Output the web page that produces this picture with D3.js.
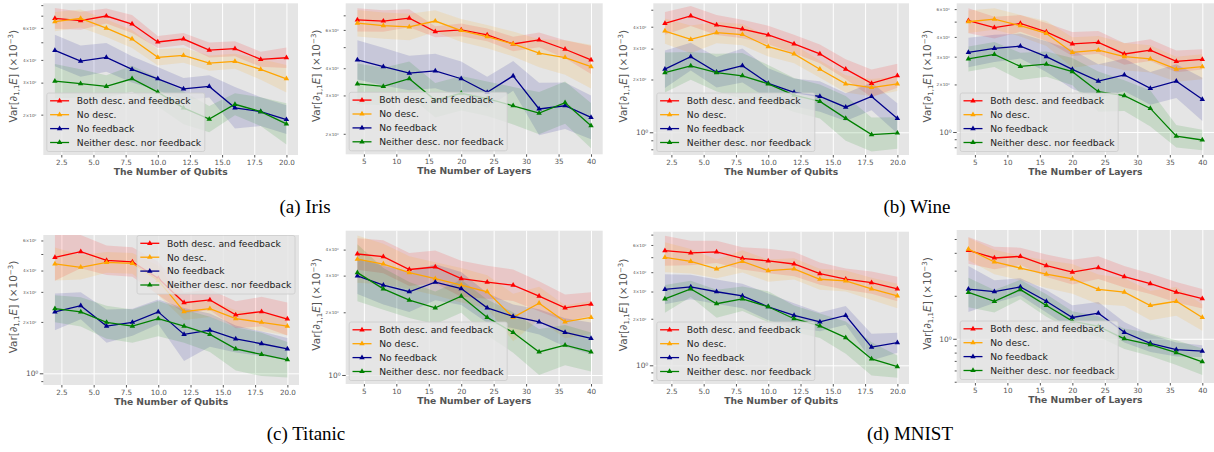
<!DOCTYPE html>
<html>
<head>
<meta charset="utf-8">
<script src="https://cdn.jsdelivr.net/npm/d3@7"></script>
<style>
  body { margin: 0; background: #fff; }
  svg text { font-family: "DejaVu Sans", sans-serif; }
  svg text.caption { font-family: "Liberation Serif", "Times New Roman", serif; }
</style>
</head>
<body>
<div id="chart-area"></div>
<script>
// x values
var qubits = [2, 4, 6, 8, 10, 12, 14, 16, 18, 20];
var layers = [4, 8, 12, 16, 20, 24, 28, 32, 36, 40];
var xTicksQubits = [2.5, 5, 7.5, 10, 12.5, 15, 17.5, 20];
var xTicksLayers = [5, 10, 15, 20, 25, 30, 35, 40];

var seriesNames = ["Both desc. and feedback", "No desc.", "No feedback", "Neither desc. nor feedback"];
var seriesColors = ["#ff0000", "#ffa500", "#00008b", "#008000"];
var captions = ["(a) Iris", "(b) Wine", "(c) Titanic", "(d) MNIST"];

// Iris - qubits (mean, and spread factor of the shaded band)
var irisQBoth    = [6.76, 6.57, 6.97, 6.30, 5.02, 5.21, 4.53, 4.61, 4.03, 4.11];
var irisQNoDesc  = [6.49, 6.76, 5.98, 5.21, 4.13, 4.24, 3.84, 3.93, 3.55, 3.15];
var irisQNoFb    = [4.51, 3.94, 4.13, 3.55, 3.15, 2.77, 2.86, 2.18, 2.08, 1.88];
var irisQNeither = [3.06, 2.96, 2.86, 3.15, 2.66, 2.18, 1.89, 2.28, 2.08, 1.78];
var irisQBothSp    = [1.14, 1.12, 1.10, 1.12, 1.08, 1.08, 1.10, 1.10, 1.10, 1.14];
var irisQNoDescSp  = [1.13, 1.12, 1.12, 1.12, 1.11, 1.10, 1.10, 1.10, 1.14, 1.19];
var irisQNoFbSp    = [1.22, 1.22, 1.20, 1.18, 1.16, 1.15, 1.15, 1.30, 1.20, 1.20];
var irisQNeitherSp = [1.24, 1.20, 1.15, 1.18, 1.20, 1.23, 1.18, 1.15, 1.20, 1.30];

// Iris - layers
var irisLBoth    = [6.67, 6.59, 6.79, 5.89, 6.00, 5.69, 5.17, 5.40, 4.89, 4.37];
var irisLNoDesc  = [6.44, 6.28, 6.19, 6.59, 5.96, 5.59, 5.17, 4.69, 4.48, 4.07];
var irisLNoFb    = [4.37, 4.07, 3.80, 3.89, 3.58, 3.10, 3.69, 2.60, 2.69, 2.38];
var irisLNeither = [3.39, 3.30, 3.58, 2.85, 3.07, 2.90, 2.69, 2.49, 2.78, 2.18];
var irisLBothSp    = [1.13, 1.12, 1.10, 1.06, 1.07, 1.07, 1.08, 1.08, 1.10, 1.16];
var irisLNoDescSp  = [1.15, 1.15, 1.15, 1.12, 1.13, 1.13, 1.14, 1.16, 1.20, 1.26];
var irisLNoFbSp    = [1.23, 1.22, 1.20, 1.20, 1.20, 1.18, 1.17, 1.32, 1.28, 1.26];
var irisLNeitherSp = [1.24, 1.22, 1.20, 1.20, 1.20, 1.20, 1.22, 1.25, 1.25, 1.27];

// Wine - qubits
var wineQBoth    = [4.18, 4.61, 4.09, 3.88, 3.59, 3.19, 2.80, 2.29, 1.90, 2.10];
var wineQNoDesc  = [3.78, 3.39, 3.70, 3.61, 3.08, 2.80, 2.29, 1.89, 1.80, 1.89];
var wineQNoFb    = [2.29, 2.70, 2.20, 2.40, 1.90, 1.69, 1.60, 1.39, 1.60, 1.20];
var wineQNeither = [2.19, 2.39, 2.19, 2.10, 1.89, 1.63, 1.50, 1.20, 0.97, 0.99];
var wineQBothSp    = [1.16, 1.14, 1.14, 1.13, 1.13, 1.13, 1.13, 1.14, 1.20, 1.17];
var wineQNoDescSp  = [1.18, 1.20, 1.15, 1.15, 1.14, 1.13, 1.12, 1.12, 1.12, 1.10];
var wineQNoFbSp    = [1.28, 1.20, 1.22, 1.25, 1.22, 1.20, 1.22, 1.20, 1.20, 1.22];
var wineQNeitherSp = [1.30, 1.20, 1.28, 1.35, 1.28, 1.25, 1.25, 1.34, 1.25, 1.23];

// Wine - layers
var wineLBoth    = [5.07, 4.58, 4.87, 4.30, 3.61, 3.69, 3.12, 3.30, 2.80, 2.88];
var wineLNoDesc  = [4.99, 5.19, 4.71, 4.21, 3.19, 3.30, 3.00, 2.90, 2.50, 2.59];
var wineLNoFb    = [3.19, 3.38, 3.50, 3.00, 2.49, 2.10, 2.30, 1.89, 2.10, 1.61];
var wineLNeither = [2.90, 3.10, 2.60, 2.69, 2.41, 1.80, 1.70, 1.41, 0.94, 0.89];
var wineLBothSp    = [1.20, 1.17, 1.13, 1.14, 1.19, 1.18, 1.17, 1.17, 1.17, 1.16];
var wineLNoDescSp  = [1.18, 1.17, 1.17, 1.20, 1.25, 1.23, 1.22, 1.22, 1.20, 1.20];
var wineLNoFbSp    = [1.24, 1.22, 1.20, 1.25, 1.33, 1.28, 1.27, 1.27, 1.28, 1.37];
var wineLNeitherSp = [1.20, 1.20, 1.22, 1.20, 1.22, 1.34, 1.25, 1.30, 1.18, 1.16];

// Titanic - qubits
var titanicQBoth    = [4.78, 5.16, 4.59, 4.49, 3.60, 2.59, 2.69, 2.20, 2.30, 2.08];
var titanicQNoDesc  = [4.37, 4.18, 4.47, 4.41, 3.50, 2.30, 2.39, 2.09, 1.99, 1.89];
var titanicQNoFb    = [2.29, 2.49, 1.89, 1.99, 2.29, 1.69, 1.79, 1.59, 1.49, 1.39];
var titanicQNeither = [2.39, 2.29, 1.99, 1.89, 2.09, 1.89, 1.69, 1.39, 1.29, 1.20];
var titanicQBothSp    = [1.37, 1.25, 1.22, 1.22, 1.25, 1.15, 1.15, 1.20, 1.22, 1.25];
var titanicQNoDescSp  = [1.25, 1.18, 1.15, 1.15, 1.22, 1.12, 1.12, 1.12, 1.13, 1.13];
var titanicQNoFbSp    = [1.28, 1.20, 1.25, 1.20, 1.18, 1.43, 1.25, 1.20, 1.18, 1.16];
var titanicQNeitherSp = [1.20, 1.22, 1.25, 1.25, 1.27, 1.25, 1.27, 1.34, 1.34, 1.27];

// Titanic - layers
var titanicLBoth    = [3.81, 3.70, 3.21, 3.30, 2.90, 2.79, 2.70, 2.39, 2.10, 2.19];
var titanicLNoDesc  = [3.60, 3.41, 3.10, 2.90, 2.70, 2.51, 1.89, 2.21, 1.80, 1.89];
var titanicLNoFb    = [2.99, 2.70, 2.51, 2.79, 2.60, 2.10, 1.91, 1.80, 1.60, 1.50];
var titanicLNeither = [3.10, 2.59, 2.29, 2.10, 2.39, 1.89, 1.60, 1.29, 1.39, 1.29];
var titanicLBothSp    = [1.19, 1.20, 1.20, 1.20, 1.22, 1.20, 1.19, 1.18, 1.16, 1.14];
var titanicLNoDescSp  = [1.30, 1.25, 1.20, 1.20, 1.21, 1.20, 1.30, 1.20, 1.20, 1.20];
var titanicLNoFbSp    = [1.22, 1.24, 1.25, 1.22, 1.20, 1.18, 1.14, 1.15, 1.17, 1.19];
var titanicLNeitherSp = [1.37, 1.26, 1.22, 1.20, 1.20, 1.22, 1.25, 1.29, 1.25, 1.24];

// MNIST - qubits
var mnistQBoth    = [5.51, 5.33, 5.41, 4.92, 4.73, 4.52, 3.91, 3.61, 3.42, 3.12];
var mnistQNoDesc  = [4.99, 4.70, 4.20, 4.70, 4.09, 4.20, 3.60, 3.51, 3.12, 2.81];
var mnistQNoFb    = [3.10, 3.21, 2.99, 2.81, 2.39, 2.10, 1.91, 2.10, 1.31, 1.40];
var mnistQNeither = [2.69, 3.12, 2.50, 2.69, 2.39, 2.00, 1.80, 1.51, 1.10, 0.98];
var mnistQBothSp    = [1.25, 1.20, 1.18, 1.18, 1.20, 1.20, 1.18, 1.17, 1.18, 1.20];
var mnistQNoDescSp  = [1.25, 1.20, 1.15, 1.18, 1.18, 1.17, 1.17, 1.17, 1.18, 1.20];
var mnistQNoFbSp    = [1.25, 1.20, 1.20, 1.20, 1.22, 1.20, 1.15, 1.15, 1.22, 1.16];
var mnistQNeitherSp = [1.23, 1.13, 1.23, 1.20, 1.26, 1.22, 1.20, 1.27, 1.28, 1.18];

// MNIST - layers
var mnistLBoth    = [4.16, 3.68, 3.78, 3.25, 2.93, 3.15, 2.72, 2.43, 2.12, 1.91];
var mnistLNoDesc  = [4.25, 3.45, 3.13, 2.84, 2.63, 2.22, 2.12, 1.71, 1.83, 1.41];
var mnistLNoFb    = [2.23, 2.14, 2.31, 1.83, 1.41, 1.51, 1.11, 0.93, 0.84, 0.82];
var mnistLNeither = [2.11, 1.83, 2.21, 1.71, 1.33, 1.22, 1.00, 0.91, 0.80, 0.69];
var mnistLBothSp    = [1.24, 1.20, 1.15, 1.20, 1.22, 1.20, 1.19, 1.18, 1.18, 1.17];
var mnistLNoDescSp  = [1.20, 1.22, 1.22, 1.25, 1.27, 1.27, 1.25, 1.27, 1.26, 1.24];
var mnistLNoFbSp    = [1.45, 1.20, 1.15, 1.20, 1.22, 1.20, 1.18, 1.15, 1.12, 1.10];
var mnistLNeitherSp = [1.27, 1.20, 1.17, 1.20, 1.17, 1.18, 1.18, 1.20, 1.22, 1.24];

// layout of the 8 axes (pixel box + visible y range)
var panels = [
  { xs: qubits, ticks: xTicksQubits, fmt: ".1f", label: "The Number of Qubits", xDom: [1.1, 20.9],
    left: 43.3, top: 3.3, right: 298, bottom: 155, yDom: [1.20, 8.19], legend: "ll",
    vals: [irisQBoth, irisQNoDesc, irisQNoFb, irisQNeither],
    sps: [irisQBothSp, irisQNoDescSp, irisQNoFbSp, irisQNeitherSp] },
  { xs: layers, ticks: xTicksLayers, fmt: "d", label: "The Number of Layers", xDom: [2.2, 41.8],
    left: 345.7, top: 3.3, right: 602.7, bottom: 154.3, yDom: [1.61, 7.95], legend: "ll",
    vals: [irisLBoth, irisLNoDesc, irisLNoFb, irisLNeither],
    sps: [irisLBothSp, irisLNoDescSp, irisLNoFbSp, irisLNeitherSp] },
  { xs: qubits, ticks: xTicksQubits, fmt: ".1f", label: "The Number of Qubits", xDom: [1.1, 20.9],
    left: 653.3, top: 3.3, right: 909, bottom: 155, yDom: [0.742, 5.44], legend: "ll",
    vals: [wineQBoth, wineQNoDesc, wineQNoFb, wineQNeither],
    sps: [wineQBothSp, wineQNoDescSp, wineQNoFbSp, wineQNeitherSp] },
  { xs: layers, ticks: xTicksLayers, fmt: "d", label: "The Number of Layers", xDom: [2.2, 41.8],
    left: 956.7, top: 3.3, right: 1214, bottom: 155, yDom: [0.715, 6.53], legend: "ll",
    vals: [wineLBoth, wineLNoDesc, wineLNoFb, wineLNeither],
    sps: [wineLBothSp, wineLNoDescSp, wineLNoFbSp, wineLNeitherSp] },
  { xs: qubits, ticks: xTicksQubits, fmt: ".1f", label: "The Number of Qubits", xDom: [1.1, 20.9],
    left: 43.3, top: 235, right: 299, bottom: 385, yDom: [0.854, 6.46], legend: "ur",
    vals: [titanicQBoth, titanicQNoDesc, titanicQNoFb, titanicQNeither],
    sps: [titanicQBothSp, titanicQNoDescSp, titanicQNoFbSp, titanicQNeitherSp] },
  { xs: layers, ticks: xTicksLayers, fmt: "d", label: "The Number of Layers", xDom: [2.2, 41.8],
    left: 345.7, top: 230.7, right: 602.7, bottom: 384, yDom: [0.905, 4.93], legend: "ll",
    vals: [titanicLBoth, titanicLNoDesc, titanicLNoFb, titanicLNeither],
    sps: [titanicLBothSp, titanicLNoDescSp, titanicLNoFbSp, titanicLNeitherSp] },
  { xs: qubits, ticks: xTicksQubits, fmt: ".1f", label: "The Number of Qubits", xDom: [1.1, 20.9],
    left: 653.3, top: 231.7, right: 909, bottom: 384, yDom: [0.757, 7.31], legend: "ll",
    vals: [mnistQBoth, mnistQNoDesc, mnistQNoFb, mnistQNeither],
    sps: [mnistQBothSp, mnistQNoDescSp, mnistQNoFbSp, mnistQNeitherSp] },
  { xs: layers, ticks: xTicksLayers, fmt: "d", label: "The Number of Layers", xDom: [2.2, 41.8],
    left: 956.7, top: 230, right: 1214, bottom: 383, yDom: [0.49, 5.78], legend: "ll",
    vals: [mnistLBoth, mnistLNoDesc, mnistLNoFb, mnistLNeither],
    sps: [mnistLBothSp, mnistLNoDescSp, mnistLNoFbSp, mnistLNeitherSp] }
];

var captionPos = [[305, 213], [917, 213], [306, 440], [910, 440]];

var svg = d3.select("#chart-area")
  .append("svg")
    .attr("width", 1214)
    .attr("height", 452);

var supDigits = "\u2070\u00b9\u00b2\u00b3\u2074\u2075\u2076\u2077\u2078\u2079";
function sup(k) {
  var s = String(Math.abs(k)).split("").map(function(c){ return supDigits[+c]; }).join("");
  return (k < 0 ? "\u207b" : "") + s;
}

// log ticks 1..9 x 10^k inside the domain
function logTicks(dom) {
  var t = [];
  for (var k = Math.floor(Math.log10(dom[0])); k <= Math.ceil(Math.log10(dom[1])); k++) {
    for (var m = 1; m < 10; m++) {
      var v = m * Math.pow(10, k);
      if (v >= dom[0] && v <= dom[1]) t.push(v);
    }
  }
  return t;
}
function isMajor(v) {
  var l = Math.log10(v);
  return Math.abs(l - Math.round(l)) < 1e-9;
}

panels.forEach(function(p, pi) {
  var w = p.right - p.left, h = p.bottom - p.top;
  var g = svg.append("g")
    .attr("transform", "translate(" + p.left + "," + p.top + ")");

  var x = d3.scaleLinear().domain(p.xDom).range([0, w]);
  var y = d3.scaleLog().domain(p.yDom).range([h, 0]);

  g.append("clipPath").attr("id", "clip" + pi)
    .append("rect").attr("width", w).attr("height", h);

  g.append("rect")
    .attr("width", w)
    .attr("height", h)
    .attr("fill", "#e5e5e5");

  var yt = logTicks(p.yDom);
  var majors = yt.filter(isMajor);
  var span = Math.log10(p.yDom[1] / p.yDom[0]);

  // white grid
  var gx = g.append("g")
    .attr("transform", "translate(0," + h + ")")
    .call(d3.axisBottom(x).tickValues(p.ticks).tickSize(-h).tickFormat(""));
  var gy = g.append("g")
    .call(d3.axisLeft(y).tickValues(majors).tickSize(-w).tickFormat(""));
  [gx, gy].forEach(function(gg) {
    gg.select(".domain").remove();
    gg.selectAll("line").attr("stroke", "#ffffff").attr("stroke-width", 1);
  });

  // bands and lines
  var plot = g.append("g").attr("clip-path", "url(#clip" + pi + ")");
  p.vals.forEach(function(vals, si) {
    var pts = vals.map(function(v, j){ return { x: p.xs[j], v: v, s: p.sps[si][j] }; });
    var area = d3.area()
      .x(function(d){ return x(d.x); })
      .y0(function(d){ return y(d.v / d.s); })
      .y1(function(d){ return y(d.v * d.s); });
    plot.append("path")
      .attr("d", area(pts))
      .attr("fill", seriesColors[si])
      .attr("fill-opacity", 0.13);
  });
  p.vals.forEach(function(vals, si) {
    var pts = vals.map(function(v, j){ return { x: p.xs[j], v: v }; });
    var line = d3.line()
      .x(function(d){ return x(d.x); })
      .y(function(d){ return y(d.v); });
    plot.append("path")
      .attr("d", line(pts))
      .attr("fill", "none")
      .attr("stroke", seriesColors[si])
      .attr("stroke-width", 1.3);
    plot.selectAll(".m" + si)
      .data(pts)
      .enter()
      .append("path")
        .attr("transform", function(d){ return "translate(" + x(d.x) + "," + y(d.v) + ")"; })
        .attr("d", d3.symbol().type(d3.symbolTriangle).size(13))
        .attr("fill", seriesColors[si]);
  });

  // axes
  var xAxis = g.append("g")
    .attr("transform", "translate(0," + h + ")")
    .call(d3.axisBottom(x).tickValues(p.ticks).tickSize(2.5).tickPadding(2)
      .tickFormat(d3.format(p.fmt)));
  xAxis.select(".domain").remove();
  xAxis.selectAll("line").attr("stroke", "#555555");
  xAxis.selectAll("text")
    .attr("fill", "#555555")
    .attr("font-size", "7.2px")
    .attr("font-family", "DejaVu Sans");

  var yAxis = g.append("g")
    .call(d3.axisLeft(y).tickValues(yt).tickSize(3).tickPadding(2)
      .tickFormat(function(v){
        var k = Math.floor(Math.log10(v) + 1e-9);
        var m = Math.round(v / Math.pow(10, k));
        if (m === 1) return "10" + sup(k);
        if (span < 1 && [2, 3, 4, 6].indexOf(m) >= 0) return m + "\u00d710" + sup(k);
        return "";
      }));
  yAxis.select(".domain").remove();
  yAxis.selectAll(".tick line")
    .attr("stroke", "#555555")
    .attr("x2", function(d){ return isMajor(d) ? -3.5 : -2; });
  yAxis.selectAll(".tick text")
    .attr("fill", "#555555")
    .attr("font-family", "DejaVu Sans")
    .attr("x", function(d){ return isMajor(d) ? -5 : -7; })
    .attr("font-size", function(d){ return isMajor(d) ? "7.4px" : "4.2px"; });

  // axis labels
  g.append("text")
    .attr("x", w / 2)
    .attr("y", h + 20)
    .attr("text-anchor", "middle")
    .attr("font-size", "9.2px")
    .attr("font-weight", "bold")
    .attr("fill", "#555555")
    .text(p.label);

  var yl = g.append("text")
    .attr("transform", "translate(-26," + (h / 2 - 3) + ") rotate(-90)")
    .attr("text-anchor", "middle")
    .attr("font-size", "10.5px")
    .attr("fill", "#555555");
  yl.append("tspan").text("Var[\u2202");
  yl.append("tspan").attr("dy", 2).attr("font-size", "7px").text("1,1");
  yl.append("tspan").attr("dy", -2).attr("font-style", "italic").text("E");
  yl.append("tspan").text("] (\u00d710");
  yl.append("tspan").attr("dy", -4).attr("font-size", "7px").text("\u22123");
  yl.append("tspan").attr("dy", 4).text(")");

  // legend
  var lw = 158, lh = 58.5;
  var lx = p.legend === "ur" ? w - 4 - lw : 3.5;
  var ly = p.legend === "ur" ? 0.5 : h - 3.5 - lh;
  var leg = g.append("g").attr("transform", "translate(" + lx + "," + ly + ")");
  leg.append("rect")
    .attr("width", lw)
    .attr("height", lh)
    .attr("rx", 2)
    .attr("fill", "#e5e5e5")
    .attr("fill-opacity", 0.8)
    .attr("stroke", "#cccccc")
    .attr("stroke-width", 0.8);
  seriesNames.forEach(function(name, si) {
    var ry = 7.8 + si * 13.9;
    leg.append("line")
      .attr("x1", 3.3).attr("x2", 22.3)
      .attr("y1", ry).attr("y2", ry)
      .attr("stroke", seriesColors[si])
      .attr("stroke-width", 1.3);
    leg.append("path")
      .attr("transform", "translate(12.8," + ry + ")")
      .attr("d", d3.symbol().type(d3.symbolTriangle).size(13))
      .attr("fill", seriesColors[si]);
    leg.append("text")
      .attr("x", 30)
      .attr("y", ry + 3.3)
      .attr("font-size", "9.2px")
      .attr("fill", "#222222")
      .text(name);
  });
});

// sub-figure captions
captions.forEach(function(c, i) {
  svg.append("text")
    .attr("class", "caption")
    .attr("x", captionPos[i][0])
    .attr("y", captionPos[i][1])
    .attr("text-anchor", "middle")
    .attr("font-size", "19px")
    .attr("fill", "#000000")
    .text(c);
});
</script>
</body>
</html>
